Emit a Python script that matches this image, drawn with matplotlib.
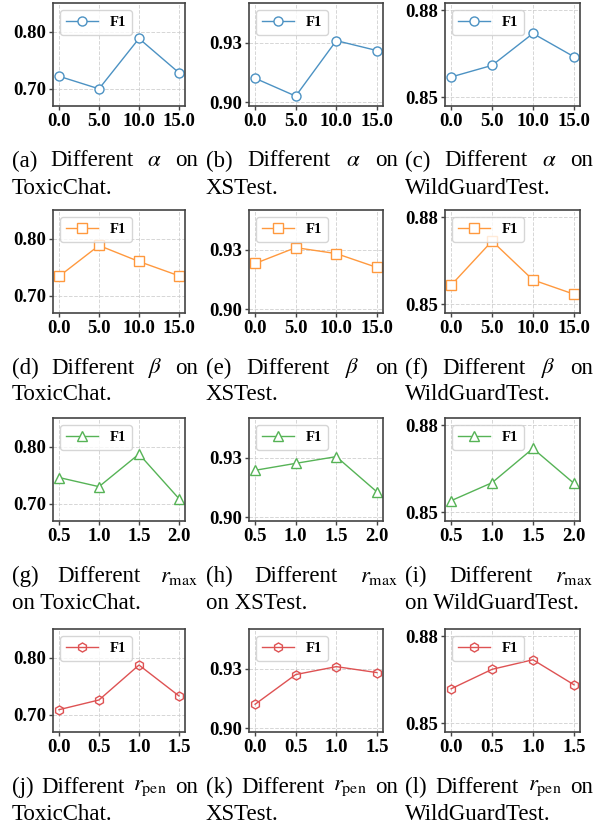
import matplotlib
matplotlib.use("Agg")
import matplotlib.pyplot as plt

plt.rcParams['font.family'] = ['Liberation Serif', 'DejaVu Serif']
plt.rcParams['mathtext.fontset'] = 'stix'

# x values per row
x_alpha = [0.0, 5.0, 10.0, 15.0]
x_beta = [0.0, 5.0, 10.0, 15.0]
x_rmax = [0.5, 1.0, 1.5, 2.0]
x_rpen = [0.0, 0.5, 1.0, 1.5]

# F1 on ToxicChat / XSTest / WildGuardTest
alpha_toxic = [0.722, 0.700, 0.788, 0.728]
alpha_xstest = [0.912, 0.903, 0.931, 0.926]
alpha_wild = [0.857, 0.861, 0.872, 0.864]

beta_toxic = [0.734, 0.788, 0.760, 0.735]
beta_xstest = [0.923, 0.931, 0.928, 0.921]
beta_wild = [0.8566, 0.8718, 0.8584, 0.8535]

rmax_toxic = [0.746, 0.730, 0.787, 0.709]
rmax_xstest = [0.9236, 0.9271, 0.9305, 0.9127]
rmax_wild = [0.854, 0.8602, 0.872, 0.860]

rpen_toxic = [0.709, 0.726, 0.787, 0.733]
rpen_xstest = [0.912, 0.927, 0.931, 0.928]
rpen_wild = [0.8619, 0.8686, 0.8719, 0.8633]

datasets = ["ToxicChat.", "XSTest.", "WildGuardTest."]
letters = "abcdefghijkl"
params = [r"$\alpha$", r"$\beta$", r"$r_{\mathrm{max}}$", r"$r_{\mathrm{pen}}$"]

rows = [
    (x_alpha, [alpha_toxic, alpha_xstest, alpha_wild]),
    (x_beta, [beta_toxic, beta_xstest, beta_wild]),
    (x_rmax, [rmax_toxic, rmax_xstest, rmax_wild]),
    (x_rpen, [rpen_toxic, rpen_xstest, rpen_wild]),
]
colors = ['#4c92c3', '#ff993e', '#56b356', '#de5253']
markers = ['o', 's', '^', 'h']
faces = ['white', 'white', 'white', 'none']

ylims = [(0.67, 0.85), (0.898, 0.95), (0.847, 0.8825)]
yticks = [[0.70, 0.80], [0.90, 0.93], [0.85, 0.88]]

W, H = 605, 830
fig = plt.figure(figsize=(W / 100, H / 100), dpi=100)

row_top = [3, 210, 418, 629]
ax_h = 103
col_left = [53, 249, 445]
col_w = [132, 134, 135]
cap_x = [(12, 198), (206, 398), (405, 593)]
cap_size = 16.5


def px_axes(left, top, w, h):
    return fig.add_axes([left / W, 1 - (top + h) / H, w / W, h / H])


cap_texts = []
for r, (xs, series) in enumerate(rows):
    for c in range(3):
        ax = px_axes(col_left[c], row_top[r], col_w[c], ax_h)
        ax.plot(xs, series[c], marker=markers[r], color=colors[r],
                markerfacecolor=faces[r], markersize=6.5, linewidth=1.0,
                label='F1')
        ax.set_ylim(*ylims[c])
        ax.set_yticks(yticks[c])
        ax.set_yticklabels(['%.2f' % v for v in yticks[c]])
        ax.set_xticks(xs)
        ax.set_xticklabels(['%.1f' % v for v in xs])
        ax.grid(True, linestyle='--', color='#cccccc', linewidth=0.7,
                alpha=0.8)
        for lab in ax.get_xticklabels() + ax.get_yticklabels():
            lab.set_fontweight('bold')
            lab.set_fontsize(13.5)
        for sp in ax.spines.values():
            sp.set_color('#444444')
            sp.set_linewidth(1.2)
        ax.tick_params(length=3, width=1, color='#444444', pad=2)
        leg = ax.legend(loc='upper left', prop={'weight': 'bold', 'size': 10.5},
                        handlelength=2.2, fancybox=True)
        leg.get_frame().set_edgecolor('#cccccc')

        # captions
        y1 = 1 - (row_top[r] + 158) / H
        y2 = 1 - (row_top[r] + 185) / H
        lab = '(%s)' % letters[r * 3 + c]
        if r == 2:
            words = [lab, 'Different', params[r]]
            second = 'on ' + datasets[c]
        else:
            words = [lab, 'Different', params[r], 'on']
            second = datasets[c]
        ts = [fig.text(0, y1, w, fontsize=cap_size, va='center') for w in words]
        cap_texts.append((ts, cap_x[c]))
        fig.text(cap_x[c][0] / W, y2, second, fontsize=cap_size, va='center')

# justify first caption lines like LaTeX
fig.canvas.draw()
rend = fig.canvas.get_renderer()
for ts, (x0, x1) in cap_texts:
    widths = [t.get_window_extent(rend).width for t in ts]
    gap = (x1 - x0 - sum(widths)) / (len(ts) - 1)
    x = x0
    for t, w in zip(ts, widths):
        t.set_x(x / W)
        x += w + gap

fig.savefig('out.png', dpi=100)
